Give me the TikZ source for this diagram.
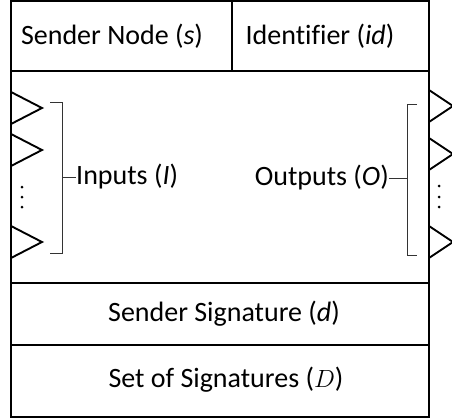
\documentclass[tikz,border=0pt]{standalone}
\usepackage{fontspec}
\setmainfont{Carlito}[Ligatures=NoCommon]
\usepackage{tikz}
\usetikzlibrary{positioning}

\begin{document}
\begin{tikzpicture}[x=1pt,y=-1pt]

			\tikzstyle{field} = [font=\fontsize{28}{32}\selectfont,inner sep=0pt]
			\tikzstyle{port} = [line width=1.9pt,line join=miter]
			\tikzstyle{brace} = [line width=0.9pt,black!80]
			\tikzstyle{frame} = [line width=2.8pt]

			\useasboundingbox (0,0) rectangle (452,418);

			% outer frame and rows
			\draw[frame] (11,1) rectangle (429,417);
			\draw[frame] (11,71) -- (429,71);
			\draw[frame] (11,283) -- (429,283);
			\draw[frame] (11,345) -- (429,345);
			\draw[line width=2.2pt] (232,1) -- (232,71);

			\node[field] (sender) at (112,36) {Sender Node (\textit{s})};
			\node[field] (ident) at (320,36) {Identifier (\textit{id})};
			\node[field] (sig) at (224,314) {Sender Signature (\textit{d})};
			\node[field] (sigset) at (226,380) {Set of Signatures ($D$)};

			% input ports
			\draw[port] (11,92) -- (42,108) -- (11,124);
			\draw[port] (11,134) -- (42,150) -- (11,166);
			\draw[port] (11,226) -- (42,242) -- (11,258);
			\fill (22,187) circle (1.5pt);
			\fill (22,197) circle (1.5pt);
			\fill (22,207) circle (1.5pt);

			% output ports
			\draw[port] (429,90) -- (453,106) -- (429,122);
			\draw[port] (429,138) -- (453,154) -- (429,170);
			\draw[port] (429,226) -- (453,242) -- (429,258);
			\fill (439,186) circle (1.5pt);
			\fill (439,197) circle (1.5pt);
			\fill (439,207) circle (1.5pt);

			% brackets
			\node[field,anchor=west] (inputs) at (76,177) {Inputs (\textit{I})};
			\draw[brace] (50,102) -- (62,102) -- (62,253) -- (50,253);
			\draw[brace] (62,177) -- (inputs.west);

			\node[field,anchor=east] (outputs) at (389,178) {Outputs (\textit{O})};
			\draw[brace] (417,104) -- (407,104) -- (407,255) -- (417,255);
			\draw[brace] (407,178) -- (outputs.east);
		\end{tikzpicture}
\end{document}
